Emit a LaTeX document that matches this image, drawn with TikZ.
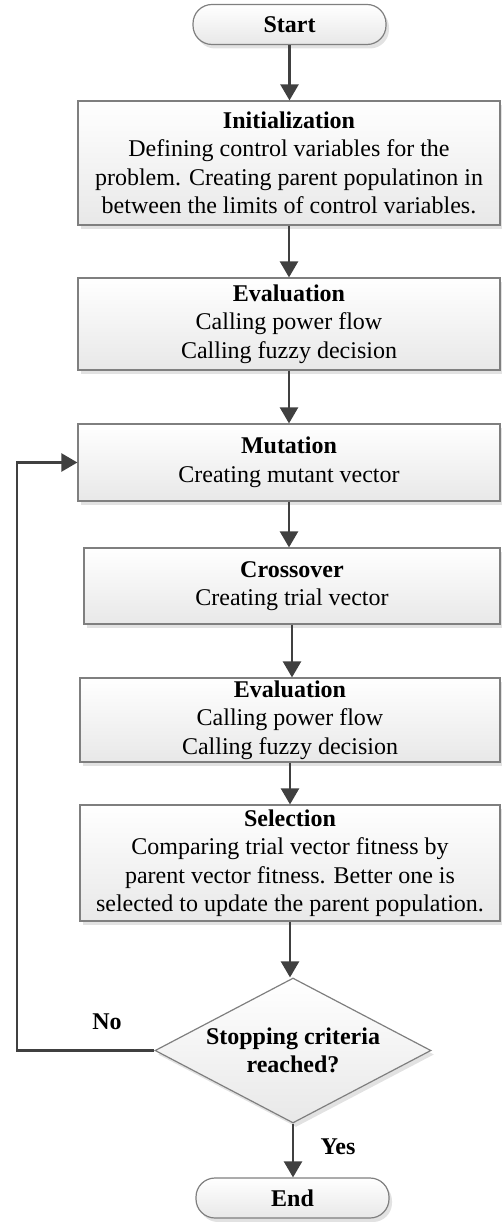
\documentclass[tikz,border=0pt]{standalone}
\usepackage{fontspec}
\setmainfont{Liberation Serif}
\usetikzlibrary{arrows.meta, shapes.geometric, shadows}
\usepackage{xcolor}

\definecolor{linegray}{HTML}{7F7F7F}
\definecolor{arrowgray}{HTML}{404040}
\definecolor{fillgray}{HTML}{E8E8E8}
\definecolor{shadowgray}{HTML}{E2E2E2}

\begin{document}
\begin{tikzpicture}[x=1pt, y=-1pt,
  every node/.style={font={\fontsize{24}{28.5}\selectfont}},
  process/.style={draw=linegray, line width=1.2pt, top color=white, bottom color=fillgray,
    align=center, inner sep=0pt,
    drop shadow={shadow xshift=3pt, shadow yshift=-4pt, fill=shadowgray, opacity=1}},
  terminal/.style={process, rounded corners=19pt, minimum width=193pt, minimum height=40pt},
  decision/.style={process, diamond, aspect=1.9, minimum width=276pt, minimum height=145pt},
  flow/.style={draw=arrowgray, line width=2.4pt, -{Triangle[length=16pt, width=18pt]}}]
\useasboundingbox (0,0) rectangle (501,1222);

% Start
\node[terminal] (start) at (289.5,24.5) {\textbf{Start}};

% Steps
\node[process, minimum width=422pt, minimum height=124pt] (init) at (289,163)
  {\textbf{Initialization}\\Defining control variables for the\\problem. Creating parent populatinon in\\between the limits of control variables.};
\node[process, minimum width=422pt, minimum height=92pt] (evalA) at (289,324)
  {\textbf{Evaluation}\\Calling power flow\\Calling fuzzy decision};
\node[process, minimum width=422pt, minimum height=77pt] (mut) at (289,462.5)
  {\textbf{Mutation}\\Creating mutant vector};
\node[process, minimum width=416pt, minimum height=76pt] (cross) at (292,586)
  {\textbf{Crossover}\\Creating trial vector};
\node[process, minimum width=420pt, minimum height=84pt] (evalB) at (290,720)
  {\textbf{Evaluation}\\Calling power flow\\Calling fuzzy decision};
\node[process, minimum width=420pt, minimum height=116pt] (sel) at (290,863)
  {\textbf{Selection}\\Comparing trial vector fitness by\\parent vector fitness. Better one is\\selected to update the parent population.};

% Stopping test
\node[decision] (stop) at (293,1050.5) {\textbf{Stopping criteria}\\\textbf{reached?}};

% End
\node[terminal] (end) at (292.5,1198) {\textbf{End}};

% Main flow
\foreach \a/\b in {start/init, init/evalA, evalA/mut, mut/cross, cross/evalB, evalB/sel, sel/stop, stop/end} {
  \draw[flow] (\a) -- (\a |- \b.north);
}

% Loop back to mutation
\coordinate (back) at (17,1050.5);
\draw[flow] (stop.west) -- (back) |- (mut.west);
\node (no) at (107,1022) {\textbf{No}};
\node (yes) at (338,1147) {\textbf{Yes}};
\end{tikzpicture}
\end{document}
